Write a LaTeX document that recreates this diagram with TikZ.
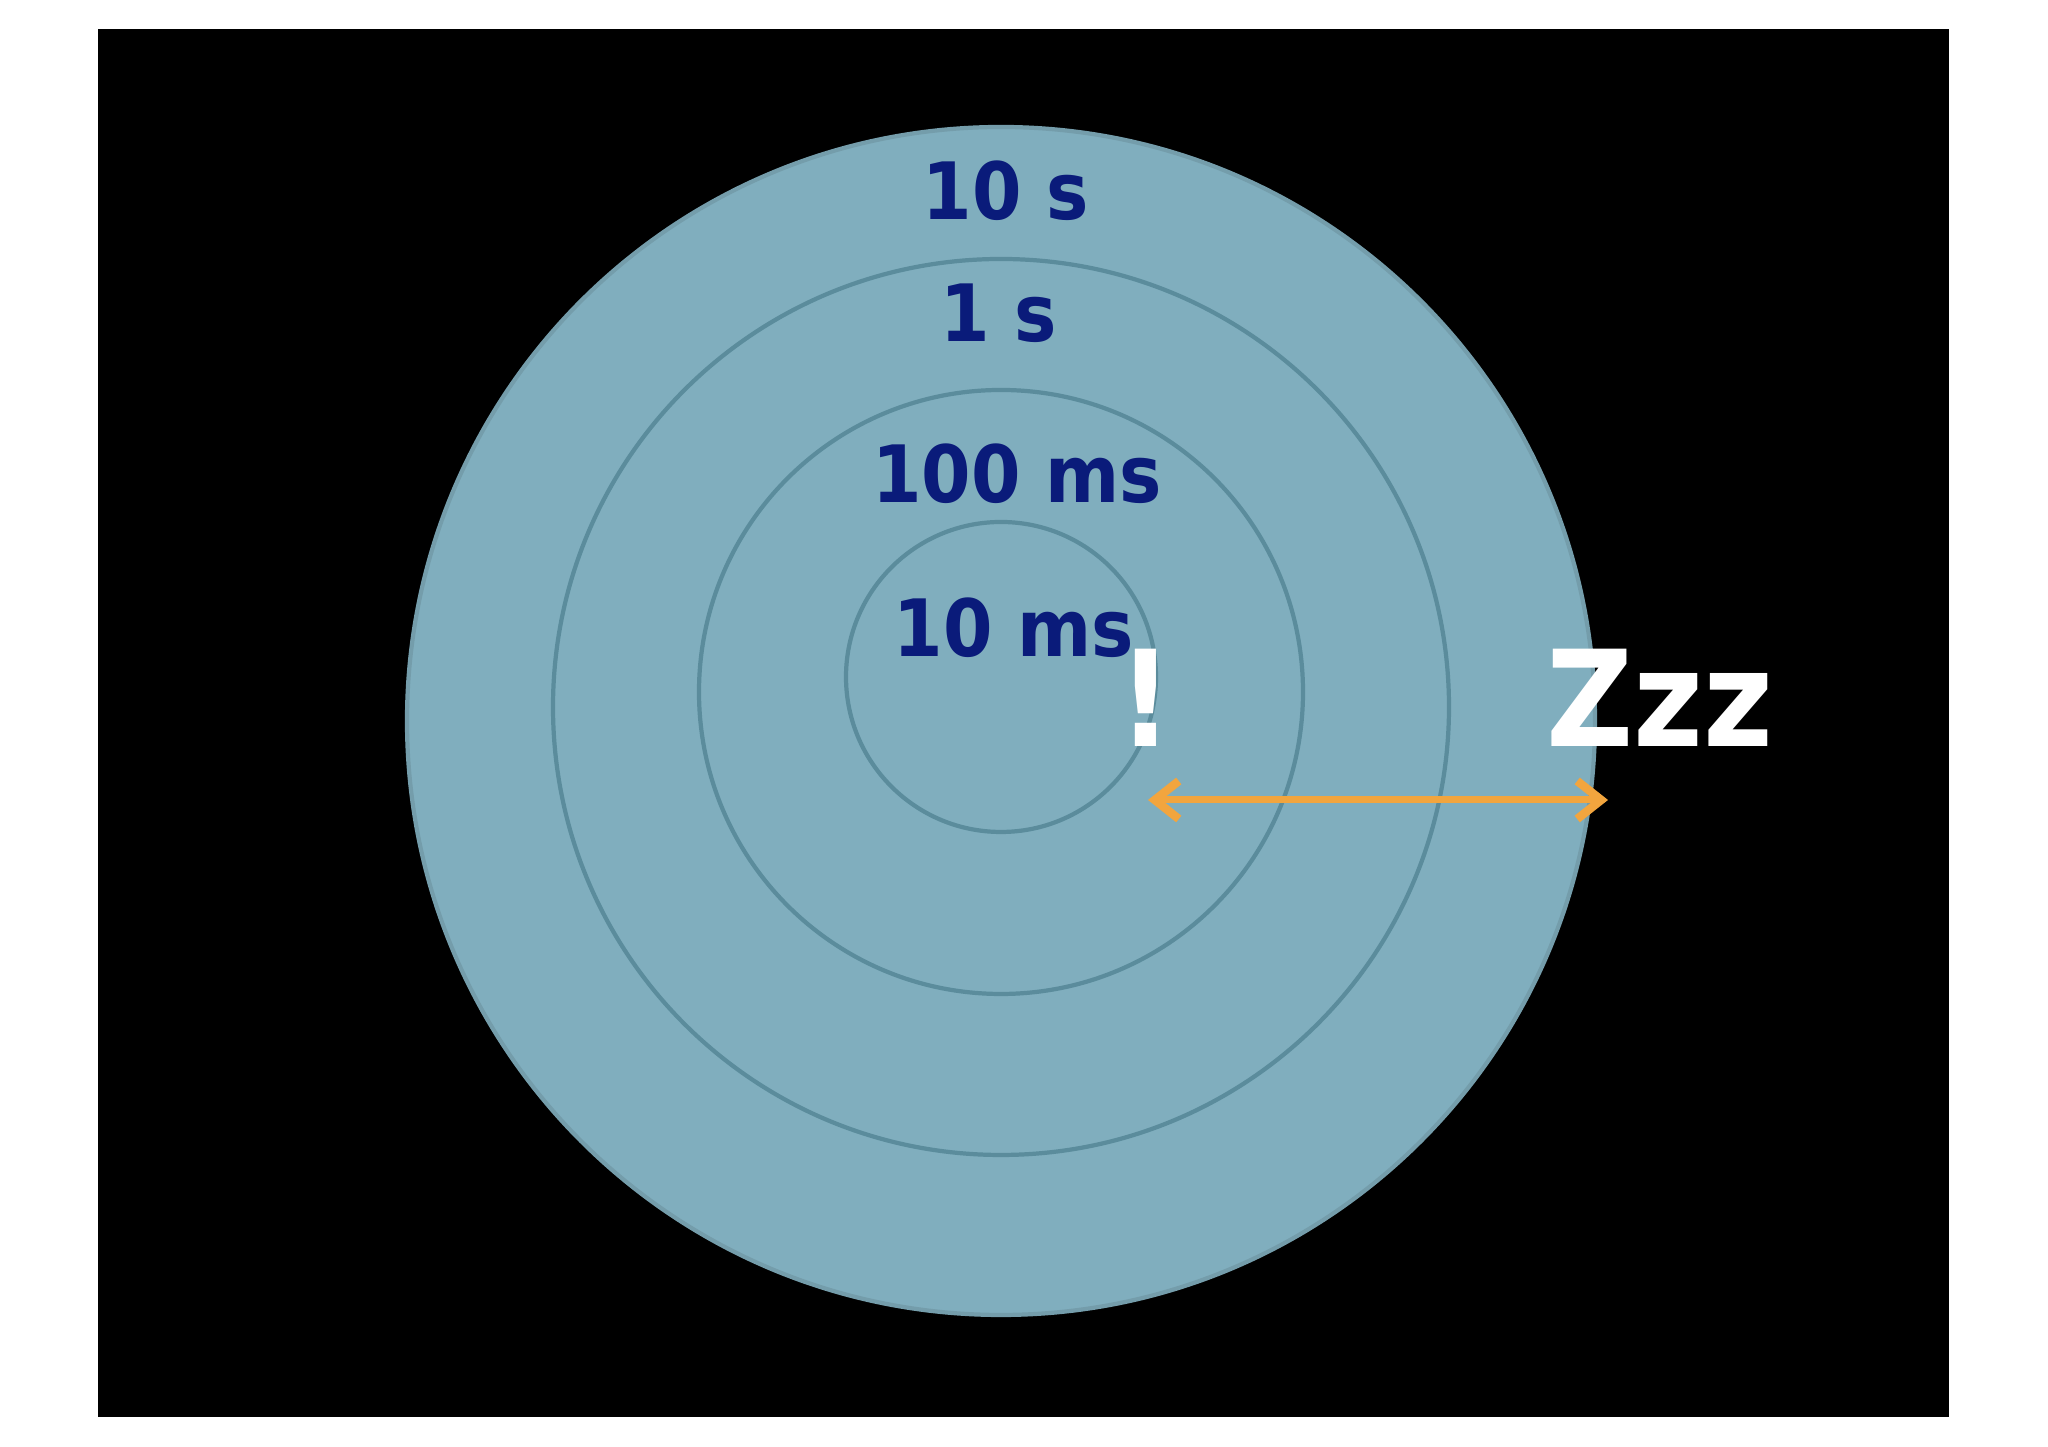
\documentclass[tikz,border=0pt]{standalone}
\usepackage{fontspec}
\setmainfont{Open Sans}
\newfontfamily\labelfont{DejaVu Sans Condensed}
\usetikzlibrary{arrows.meta}

\definecolor{ringfill}{HTML}{80AEBE}
\definecolor{ringline}{HTML}{5B8C9C}
\definecolor{labelblue}{HTML}{0A1B7A}
\definecolor{arroworange}{HTML}{F2A53E}

\tikzset{
	ring/.style		= {draw=ringline, line width=1.2pt},
	timelabel/.style	= {anchor=base, inner sep=0pt, text=labelblue, font=\labelfont\fontsize{22.5}{27}\selectfont\bfseries},
	bigword/.style		= {anchor=base, inner sep=0pt, text=white, font=\labelfont\fontsize{38}{46}\selectfont\bfseries}
}

\begin{document}
\begin{tikzpicture}
		\useasboundingbox (0,0) rectangle (20.48,14.47);
		\fill [black]	(0.98,0.30) rectangle (19.49,14.18);

		\filldraw [ring, fill=ringfill, draw=ringline!85!white]	(10.01,7.26) circle (5.94);
		\draw [ring]	(10.01,7.40) circle (4.48);
		\draw [ring]	(10.01,7.55) circle (3.02);
		\draw [ring]	(10.01,7.70) circle (1.55);

		\node [timelabel] (tensec)	at (10.06,12.27) {10 s};
		\node [timelabel] (onesec)	at (9.99,11.05) {1 s};
		\node [timelabel] (hundredms)	at (10.17,9.44) {100 ms};
		\node [timelabel] (tenms)	at (10.14,7.90) {10 ms};

		\node [bigword] (alert)	at (11.46,7.00) {!};
		\node [bigword] (sleep)	at (16.60,7.00) {Zzz};

		\coordinate (near)	at (11.48,6.47);
		\coordinate (far)	at (16.08,6.47);
		\draw [arroworange, line width=2pt, {Straight Barb[length=0.24cm, width=0.38cm, line width=2.4pt]}-{Straight Barb[length=0.24cm, width=0.38cm, line width=2.4pt]}]	(near) -- (far);
	\end{tikzpicture}
\end{document}
